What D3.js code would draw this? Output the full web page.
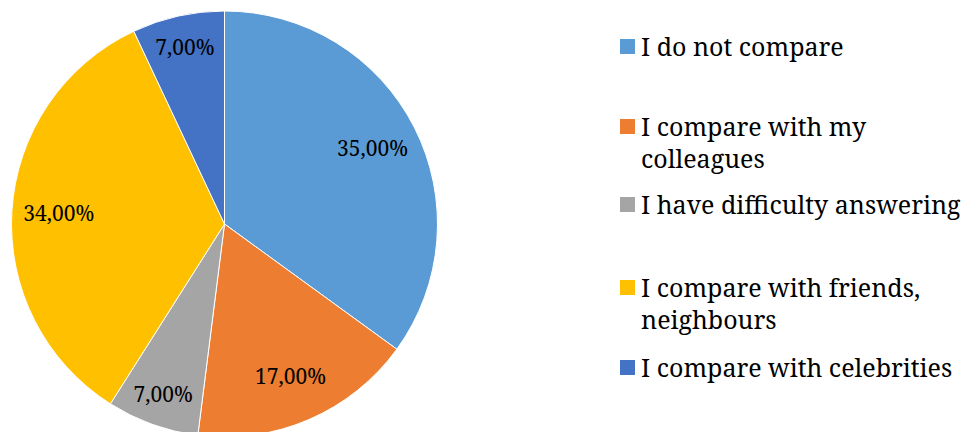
<!DOCTYPE html>
<html>
<head>
<meta charset="utf-8">
<script src="https://cdn.jsdelivr.net/npm/d3@7"></script>
<style>
  html, body { margin: 0; padding: 0; background: #ffffff; }
  svg { display: block; }
</style>
</head>
<body>
<svg id="chart" width="965" height="432"></svg>
<script>
const categories = [
  "I do not compare",
  "I compare with my colleagues",
  "I have difficulty answering",
  "I compare with friends, neighbours",
  "I compare with celebrities"
];
const values = [35, 17, 7, 34, 7];
const labels = ["35,00%", "17,00%", "7,00%", "34,00%", "7,00%"];
const colors = ["#5B9BD5", "#ED7D31", "#A5A5A5", "#FFC000", "#4472C4"];

const FONT = '"Noto Serif", "DejaVu Serif", serif';
const svg = d3.select("#chart");
const cx = 224.5, cy = 224, R = 213;

const data = categories.map((c, i) => ({ cat: c, value: values[i], label: labels[i], color: colors[i] }));

const pie = d3.pie().value(d => d.value).sort(null);
const arcs = pie(data);
const arc = d3.arc().innerRadius(0).outerRadius(R);

const g = svg.append("g").attr("transform", `translate(${cx},${cy})`);
g.selectAll("path.slice")
  .data(arcs)
  .enter().append("path")
  .attr("class", "slice")
  .attr("d", arc)
  .attr("fill", d => d.data.color)
  .attr("stroke", "#ffffff")
  .attr("stroke-width", 1);

const total = d3.sum(values);
g.selectAll("text.lbl")
  .data(arcs)
  .enter().append("text")
  .attr("class", "lbl")
  .attr("transform", d => {
    const frac = d.data.value / total;
    const r = frac < 0.1 ? 0.85 * R : 0.78 * R;
    const a = (d.startAngle + d.endAngle) / 2;
    return `translate(${r * Math.sin(a)},${-r * Math.cos(a)})`;
  })
  .attr("text-anchor", "middle")
  .attr("dy", "0.35em")
  .style("font-family", FONT)
  .style("font-size", "21px")
  .attr("fill", "#000000")
  .text(d => d.data.label);

// Legend
const legendX = 620, textX = 641, sq = 15, fs = 25, lineH = 32, wrapW = 325;
const baselines = [56, 136, 214, 297, 377];
const leg = svg.append("g");
data.forEach((d, i) => {
  const yb = baselines[i];
  leg.append("rect")
    .attr("x", legendX).attr("y", yb - 17)
    .attr("width", sq).attr("height", sq)
    .attr("fill", d.color);
  const t = leg.append("text")
    .attr("x", textX).attr("y", yb)
    .style("font-family", FONT)
    .style("font-size", fs + "px")
    .attr("fill", "#000000");
  const words = d.cat.split(" ");
  let line = [];
  let tspan = t.append("tspan").attr("x", textX).attr("y", yb);
  let lineNo = 0;
  words.forEach(w => {
    line.push(w);
    tspan.text(line.join(" "));
    if (tspan.node().getComputedTextLength() > wrapW && line.length > 1) {
      line.pop();
      tspan.text(line.join(" "));
      line = [w];
      lineNo++;
      tspan = t.append("tspan").attr("x", textX).attr("y", yb + lineNo * lineH).text(w);
    }
  });
});
</script>
</body>
</html>
